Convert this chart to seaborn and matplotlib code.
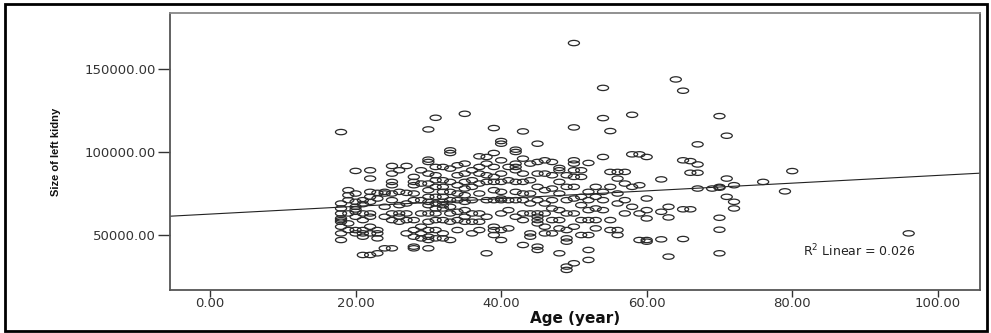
import numpy as np
import pandas as pd
import seaborn as sns
import matplotlib
matplotlib.use("Agg")
import matplotlib.pyplot as plt
from matplotlib.path import Path
from matplotlib.patches import Rectangle
from matplotlib.ticker import FormatStrFormatter

# ---- data (age in years, size of left kidney) ----
age = (
    [18] * 10 + [19] * 6 + [20] * 9 + [21] * 8 + [22] * 10 + [23] * 6 + [24] * 5 + [25] * 9
    + [26] * 6 + [27] * 6 + [28] * 10 + [29] * 7 + [30] * 15 + [31] * 12 + [32] * 11
    + [33] * 10 + [34] * 8 + [35] * 10 + [36] * 7 + [37] * 8 + [38] * 7 + [39] * 10
    + [40] * 11 + [41] * 5 + [42] * 9 + [43] * 9 + [44] * 7 + [45] * 11 + [46] * 7
    + [47] * 7 + [48] * 8 + [49] * 9 + [50] * 11 + [51] * 6 + [52] * 8 + [53] * 5
    + [54] * 6 + [55] * 5 + [56] * 6 + [57] * 4 + [58] * 4 + [59] * 4 + [60] * 6
    + [62] * 3 + [63] * 3 + [64] * 1 + [65] * 4 + [66] * 3 + [67] * 4 + [69] * 1
    + [70] * 6 + [71] * 3 + [72] * 3 + [76] * 1 + [79] * 1 + [80] * 1 + [96] * 1
)
kidney_size = [
    112000, 69000, 66000, 63000, 60000, 59000, 58000, 55000, 51000, 47000,            # 18
    77000, 74000, 71000, 63000, 57000, 53000,                                          # 19
    88600, 75000, 70000, 67000, 65400, 64000, 61000, 53000, 51000,                     # 20
    71000, 68600, 63000, 59000, 53000, 51000, 49000, 38000,                            # 21
    89000, 84000, 76000, 73000, 70000, 63000, 61000, 55000, 51000, 38000,              # 22
    75400, 72000, 53000, 51000, 48000, 39000,                                          # 23
    76000, 75000, 67000, 61000, 42000,                                                 # 24
    91600, 87000, 82000, 80000, 75000, 71000, 63000, 59000, 42000,                     # 25
    89000, 76000, 68000, 63000, 61000, 58000,                                          # 26
    91600, 75400, 69000, 63000, 59000, 51000,                                          # 27
    85000, 82000, 80000, 75000, 71000, 59000, 53000, 49000, 43000, 42000,              # 28
    89000, 81000, 71000, 63000, 55000, 51000, 48000,                                   # 29
    113600, 95400, 94000, 87000, 81000, 77000, 73000, 70000, 68000, 63000,
    58000, 53000, 49000, 47000, 42000,                                                 # 30
    120600, 91000, 86000, 83000, 79000, 73000, 69000, 66000, 63000, 59000,
    53000, 48000,                                                                      # 31
    91000, 83000, 79000, 76000, 73000, 70000, 68000, 66000, 59000, 51000, 48000,       # 32
    101000, 99400, 90000, 82000, 76000, 71000, 67000, 63000, 58000, 47000,             # 33
    92000, 86000, 80000, 75000, 71000, 64000, 59000, 53000,                            # 34
    123000, 93000, 87000, 82000, 78000, 74000, 70000, 65000, 61000, 58000,             # 35
    89000, 83000, 79000, 71000, 63000, 58000, 51000,                                   # 36
    97400, 91000, 87000, 81000, 75000, 63000, 58000, 53000,                            # 37
    97000, 93000, 86000, 82000, 71000, 61000, 39000,                                   # 38
    114400, 99400, 91000, 85000, 82000, 77000, 71000, 55000, 53000, 50000,             # 39
    106600, 105000, 95000, 87000, 82000, 76000, 72000, 71000, 63000, 53000, 47000,     # 40
    91000, 83000, 71000, 65000, 54000,                                                 # 41
    101400, 100000, 93000, 91000, 89000, 82000, 76000, 71000, 61000,                   # 42
    112400, 96000, 87000, 82000, 75000, 71000, 63000, 59000, 44000,                    # 43
    93000, 83000, 75000, 69000, 63000, 51000, 49000,                                   # 44
    105000, 94000, 87000, 79000, 71000, 63000, 61000, 59000, 57000, 43000, 41000,      # 45
    95000, 87000, 77000, 69000, 63000, 55000, 51000,                                   # 46
    94000, 86000, 78000, 71000, 66000, 59000, 51000,                                   # 47
    90400, 89000, 82000, 75000, 65000, 59000, 54000, 39000,                            # 48
    86000, 79000, 71000, 63000, 53000, 48000, 46000, 31000, 29000,                     # 49
    165600, 114800, 95000, 93000, 89000, 85000, 79000, 72000, 63000, 55000, 33000,     # 50
    89000, 85000, 73000, 68000, 59000, 50000,                                          # 51
    93400, 76000, 71000, 65000, 59000, 50000, 41000, 35000,                            # 52
    79000, 73000, 66000, 59000, 54000,                                                 # 53
    138600, 120400, 97000, 76000, 71000, 65000,                                        # 54
    112600, 88000, 79000, 59000, 53000,                                                # 55
    88000, 84000, 75000, 69000, 53000, 50000,                                          # 56
    88000, 81000, 71000, 63000,                                                        # 57
    122400, 98600, 79000, 67000,                                                       # 58
    98600, 80000, 63000, 47000,                                                        # 59
    97000, 72000, 65000, 60000, 47000, 46000,                                          # 60
    83500, 64000, 47400,                                                               # 62
    67000, 60600, 37000,                                                               # 63
    143700,                                                                            # 64
    136900, 95000, 65500, 47600,                                                       # 65
    94500, 87500, 65500,                                                               # 66
    104600, 92500, 87500, 78000,                                                       # 67
    78000,                                                                             # 69
    121600, 79000, 60400, 53200, 39000, 78500,                                         # 70
    109800, 84000, 73000,                                                              # 71
    80000, 70000, 66000,                                                               # 72
    82000,                                                                             # 76
    76300,                                                                             # 79
    88500,                                                                             # 80
    51000,                                                                             # 96
]
x_ticks = [0, 20, 40, 60, 80, 100]
y_ticks = [50000, 100000, 150000]
x_label = "Age (year)"
y_label = "Size of left kidny"
r2_label = "R$^2$ Linear = 0.026"

df = pd.DataFrame({"age": age, "size": kidney_size})

sns.set_style("white")
plt.rcParams["font.family"] = ["DejaVu Sans"]

fig = plt.figure(figsize=(9.91, 3.33), dpi=100)
ax = fig.add_axes([170 / 991, 1 - 290 / 333, 810 / 991, 277 / 333])

ax.set_xlim(-5.5, 105.8)
ax.set_ylim(16900, 183700)

# open ellipse marker (wider than tall)
circ = Path.unit_circle()
ell = Path(circ.vertices * np.array([1.0, 0.48]), circ.codes)

sns.scatterplot(data=df, x="age", y="size", ax=ax, marker=ell, s=64,
                facecolors="none", edgecolor="#2a2a2a", linewidth=0.9,
                legend=False, zorder=3)
sns.regplot(data=df, x="age", y="size", ax=ax, scatter=False, ci=None,
            truncate=False, line_kws={"color": "#222222", "lw": 0.8, "zorder": 2})

ax.set_xlim(-5.5, 105.8)
ax.set_ylim(16900, 183700)
ax.set_xticks(x_ticks)
ax.set_yticks(y_ticks)
ax.xaxis.set_major_formatter(FormatStrFormatter("%.2f"))
ax.yaxis.set_major_formatter(FormatStrFormatter("%.2f"))
ax.tick_params(axis="both", direction="out", colors="#333333", labelsize=9.5,
               width=1.0, bottom=True, left=True)
ax.tick_params(axis="y", length=9, pad=1)
ax.tick_params(axis="x", length=5, pad=0)

for side in ["left", "bottom", "right", "top"]:
    ax.spines[side].set_color("#555555")
    ax.spines[side].set_linewidth(1.3)
ax.spines["top"].set_color("#888888")

ax.set_xlabel(x_label, fontsize=11, fontweight="bold", color="#111111", labelpad=1)
ax.set_ylabel(y_label, fontsize=8, fontweight="bold", color="#111111",
              family=["Liberation Sans Narrow", "Liberation Sans", "DejaVu Sans"])
ax.yaxis.set_label_coords(-0.135, 0.5)

ax.text(0.781, 0.141, r2_label, transform=ax.transAxes, fontsize=9,
        color="#222222", va="center", ha="left")

# outer black frame
fig.patches.append(Rectangle((5 / 991, 2 / 333), 982 / 991, 327 / 333,
                             transform=fig.transFigure, fill=False,
                             edgecolor="black", linewidth=2.0))

fig.savefig("out.png", dpi=100)
